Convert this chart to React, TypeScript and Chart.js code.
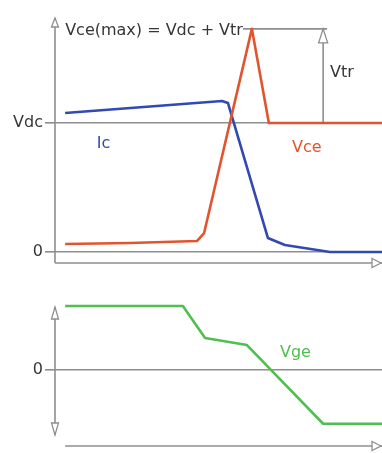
import React, { useEffect, useRef } from 'react';
import { Chart, registerables } from 'chart.js';

Chart.register(...registerables);

// ---- data (time in arbitrary units 0..100, voltages/currents normalised to Vdc = 1) ----
const timeIc = [3.1, 51.1, 52.9, 65.1, 70.3, 84.1, 100];
const icValues = [1.078, 1.171, 1.155, 0.109, 0.054, 0, 0];

const timeVce = [3.1, 22.9, 43.4, 45.6, 60.2, 65.4, 100];
const vceValues = [0.062, 0.07, 0.085, 0.147, 1.73, 1.0, 1.0];

const timeVge = [3.1, 39.1, 45.9, 58.7, 82.0, 100];
const vgeValues = [1, 1, 0.5, 0.39, -0.84, -0.84];

const topTickValues = [0, 1];
const topTickLabels = ['0', 'Vdc'];
const bottomTickValues = [0];
const bottomTickLabels = ['0'];

const vdcLevel = 1;
const vceMaxLevel = 1.73;
const vtrTime = 82;
const vceMaxLineStart = 57.5;
const vceMaxLineEnd = 83.2;

const topLabelTexts = ['Vce(max) = Vdc + Vtr', 'Ic', 'Vce', 'Vtr'];
const topLabelTimes = [3.1, 12.8, 72.5, 84.1];
const topLabelLevels = [1.682, 0.806, 0.775, 1.36];

const bottomLabelTexts = ['Vge'];
const bottomLabelTimes = [68.8];
const bottomLabelLevels = [0.203];

// ---- styles ----
const BLUE = '#3248b3';
const RED = '#e0552f';
const GREEN = '#4fc04f';
const GRAY = '#8e8e8e';
const TEXT = '#363636';
const FONT = '16px "DejaVu Sans"';

const topLabelColors = [TEXT, BLUE, RED, TEXT];
const bottomLabelColors = [GREEN];

function pts(xs: number[], ys: number[]) {
  return xs.map((x, i) => ({ x, y: ys[i] }));
}

function hollowArrow(ctx: CanvasRenderingContext2D, tx: number, ty: number, dir: string, len: number, half: number) {
  ctx.save();
  ctx.beginPath();
  if (dir === 'up') {
    ctx.moveTo(tx, ty);
    ctx.lineTo(tx - half, ty + len);
    ctx.lineTo(tx + half, ty + len);
  } else if (dir === 'down') {
    ctx.moveTo(tx, ty);
    ctx.lineTo(tx - half, ty - len);
    ctx.lineTo(tx + half, ty - len);
  } else {
    ctx.moveTo(tx, ty);
    ctx.lineTo(tx - len, ty - half);
    ctx.lineTo(tx - len, ty + half);
  }
  ctx.closePath();
  ctx.fillStyle = '#ffffff';
  ctx.fill();
  ctx.strokeStyle = GRAY;
  ctx.lineWidth = 1.3;
  ctx.stroke();
  ctx.restore();
}

function line(ctx: CanvasRenderingContext2D, x1: number, y1: number, x2: number, y2: number) {
  ctx.beginPath();
  ctx.moveTo(x1, y1);
  ctx.lineTo(x2, y2);
  ctx.stroke();
}

function drawLabels(chart: any, texts: string[], times: number[], levels: number[], colors: string[]) {
  const ctx = chart.ctx as CanvasRenderingContext2D;
  const xs = chart.scales.x;
  const ys = chart.scales.y;
  ctx.save();
  ctx.font = FONT;
  ctx.textAlign = 'left';
  ctx.textBaseline = 'alphabetic';
  texts.forEach((t, i) => {
    ctx.fillStyle = colors[i];
    ctx.fillText(t, xs.getPixelForValue(times[i]), ys.getPixelForValue(levels[i]));
  });
  ctx.restore();
}

const topPlugin = {
  id: 'topDecor',
  beforeDatasetsDraw(chart: any) {
    const ctx = chart.ctx as CanvasRenderingContext2D;
    const { left, right, top, bottom } = chart.chartArea;
    const xs = chart.scales.x;
    const ys = chart.scales.y;
    ctx.save();
    ctx.strokeStyle = GRAY;
    ctx.lineWidth = 1.6;
    line(ctx, left, top, left, bottom);
    line(ctx, left, bottom, right, bottom);
    const yMax = ys.getPixelForValue(vceMaxLevel);
    line(ctx, xs.getPixelForValue(vceMaxLineStart), yMax, xs.getPixelForValue(vceMaxLineEnd), yMax);
    const xv = xs.getPixelForValue(vtrTime);
    line(ctx, xv, ys.getPixelForValue(vdcLevel), xv, yMax);
    ctx.restore();
    hollowArrow(ctx, left, top, 'up', 9, 3.5);
    hollowArrow(ctx, right - 1, bottom, 'right', 9, 4.5);
    hollowArrow(ctx, xv, yMax, 'up', 14, 4.5);
  },
  afterDatasetsDraw(chart: any) {
    drawLabels(chart, topLabelTexts, topLabelTimes, topLabelLevels, topLabelColors);
  },
};

const bottomPlugin = {
  id: 'bottomDecor',
  beforeDatasetsDraw(chart: any) {
    const ctx = chart.ctx as CanvasRenderingContext2D;
    const { left, right, bottom } = chart.chartArea;
    const xs = chart.scales.x;
    const ys = chart.scales.y;
    const yTop = ys.getPixelForValue(0.984);
    const yBot = ys.getPixelForValue(-1.016);
    ctx.save();
    ctx.strokeStyle = GRAY;
    ctx.lineWidth = 1.6;
    line(ctx, left, yTop, left, yBot);
    line(ctx, xs.getPixelForValue(3.1), bottom, right, bottom);
    ctx.restore();
    hollowArrow(ctx, left, yTop, 'up', 12, 3.5);
    hollowArrow(ctx, left, yBot, 'down', 12, 3.5);
    hollowArrow(ctx, right - 1, bottom, 'right', 9, 4.5);
  },
  afterDatasetsDraw(chart: any) {
    drawLabels(chart, bottomLabelTexts, bottomLabelTimes, bottomLabelLevels, bottomLabelColors);
  },
};

function baseOptions(min: number, max: number, tickValues: number[], tickLabels: string[], padTop: number, padBottom: number) {
  return {
    animation: false,
    responsive: false,
    devicePixelRatio: 1,
    layout: { padding: { left: 0, right: 0, top: padTop, bottom: padBottom } },
    plugins: { legend: { display: false }, tooltip: { enabled: false }, title: { display: false } },
    scales: {
      x: { type: 'linear', min: 0, max: 100, display: false },
      y: {
        type: 'linear',
        min,
        max,
        afterFit: (s: any) => { s.width = 55; },
        afterBuildTicks: (s: any) => { s.ticks = tickValues.map((v) => ({ value: v })); },
        border: { display: false },
        grid: { color: GRAY, lineWidth: 1.6, drawTicks: true, tickLength: 10, drawOnChartArea: true },
        ticks: {
          autoSkip: false,
          padding: 2,
          color: TEXT,
          font: { family: 'DejaVu Sans', size: 16 },
          callback: (v: any) => {
            const i = tickValues.indexOf(Number(v));
            return i >= 0 ? tickLabels[i] : '';
          },
        },
      },
    },
  } as any;
}

function dataset(xs: number[], ys: number[], color: string) {
  return {
    data: pts(xs, ys),
    borderColor: color,
    borderWidth: 2.6,
    pointRadius: 0,
    tension: 0,
    fill: false,
    borderJoinStyle: 'round',
  } as any;
}

export default function App() {
  const topRef = useRef<HTMLCanvasElement | null>(null);
  const botRef = useRef<HTMLCanvasElement | null>(null);

  useEffect(() => {
    const top = new Chart(topRef.current as HTMLCanvasElement, {
      type: 'line',
      data: {
        datasets: [
          dataset(timeVce, vceValues, RED),
          dataset(timeIc, icValues, BLUE),
        ],
      },
      options: baseOptions(-0.0853, 1.814, topTickValues, topTickLabels, 18, 12),
      plugins: [topPlugin],
    } as any);
    const bottom = new Chart(botRef.current as HTMLCanvasElement, {
      type: 'line',
      data: { datasets: [dataset(timeVge, vgeValues, GREEN)] },
      options: baseOptions(-1.1875, 1.09375, bottomTickValues, bottomTickLabels, 25, 22),
      plugins: [bottomPlugin],
    } as any);
    return () => {
      top.destroy();
      bottom.destroy();
    };
  }, []);

  return (
    <div style={{ position: 'absolute', left: 0, top: 0, width: 382, height: 453, overflow: 'hidden', background: '#fff' }}>
      <canvas ref={topRef} width={382} height={275} style={{ display: 'block', width: 382, height: 275 }} />
      <canvas ref={botRef} width={382} height={193} style={{ display: 'block', width: 382, height: 193 }} />
    </div>
  );
}
